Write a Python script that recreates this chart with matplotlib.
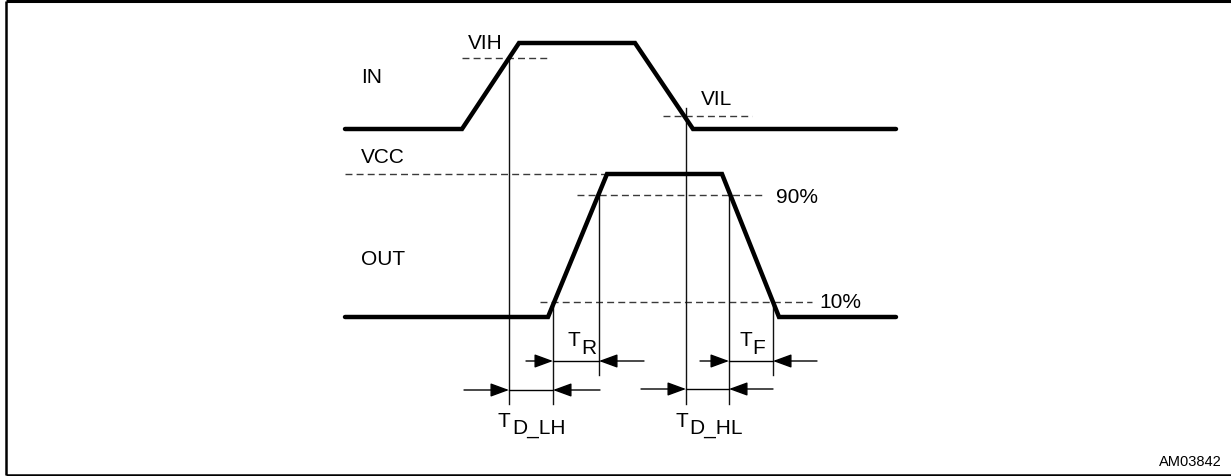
import matplotlib
matplotlib.use("Agg")
import matplotlib.pyplot as plt

plt.rcParams['font.family'] = ['Liberation Sans', 'DejaVu Sans']

# ---- Waveforms (pixel-space diagram coordinates) ----
IN_X = [345, 462, 519, 635, 693, 896]
IN_Y = [130, 130, 44, 44, 130, 130]
OUT_X = [345, 548, 607, 722, 779, 896]
OUT_Y = [318, 318, 175, 175, 318, 318]

# ---- Dashed reference levels: (y, x_start, x_end) ----
LEVEL_NAMES = ["VIH", "VIL", "VCC", "90%", "10%"]
LEVEL_Y = [59, 117, 175, 196, 303]
LEVEL_X0 = [462, 663, 345, 577, 540]
LEVEL_X1 = [548, 752, 607, 765, 812]

# ---- Vertical timing markers: x, top, bottom ----
MARK_X = [509, 686, 553, 599, 729, 773]
MARK_TOP = [59, 109, 303, 196, 196, 303]
MARK_BOT = [405, 405, 405, 376, 405, 376]

# ---- Dimension arrows: name, y, x_from, x_to, outer extensions ----
DIM_NAMES = ["R", "F", "D_LH", "D_HL"]
DIM_Y = [362, 362, 391, 390]
DIM_XA = [553, 729, 509, 686]
DIM_XB = [599, 773, 553, 729]
DIM_EXT_L = [526, 700, 464, 641]
DIM_EXT_R = [644, 817, 600, 773]

fig = plt.figure(figsize=(12.31, 4.77), dpi=100)
ax = fig.add_axes([0, 0, 1, 1])
ax.set_xlim(0, 1231)
ax.set_ylim(477, 0)
ax.axis('off')

# Frame
ax.plot([6, 6], [1.5, 476], color='black', lw=1.8, solid_capstyle='butt')
ax.plot([6, 1231], [1.5, 1.5], color='black', lw=2.2, solid_capstyle='butt')
ax.plot([6, 1231], [476, 476], color='black', lw=1.8, solid_capstyle='butt')

# Dashed levels
for y, x0, x1 in zip(LEVEL_Y, LEVEL_X0, LEVEL_X1):
    ax.plot([x0, x1], [y, y], color='#3a3a3a', lw=1.0, dashes=(5, 3))

# Vertical markers
for x, t, b in zip(MARK_X, MARK_TOP, MARK_BOT):
    ax.plot([x, x], [t, b], color='#111111', lw=1.0)

# Waveforms
ax.plot(IN_X, IN_Y, color='black', lw=3.2, solid_joinstyle='miter', solid_capstyle='round')
ax.plot(OUT_X, OUT_Y, color='black', lw=3.2, solid_joinstyle='miter', solid_capstyle='round')

# Dimension arrows
astyle = '-|>,head_length=0.6,head_width=0.22'
for y, xa, xb, el, er in zip(DIM_Y, DIM_XA, DIM_XB, DIM_EXT_L, DIM_EXT_R):
    ax.plot([xa, xb], [y, y], color='black', lw=1.0)
    ax.annotate('', xy=(xa, y), xytext=(el, y),
                arrowprops=dict(arrowstyle=astyle, mutation_scale=19, lw=1.0,
                                color='black', shrinkA=0, shrinkB=0))
    ax.annotate('', xy=(xb, y), xytext=(er, y),
                arrowprops=dict(arrowstyle=astyle, mutation_scale=19, lw=1.0,
                                color='black', shrinkA=0, shrinkB=0))

fs = 15
tk = dict(fontsize=fs, color='black', va='baseline', ha='left')
ax.text(361, 83, "IN", **tk)
ax.text(361, 163, "VCC", **tk)
ax.text(361, 265, "OUT", **tk)
ax.text(468, 49, "VIH", **tk)
ax.text(701, 105, "VIL", **tk)
ax.text(776, 203, "90%", **tk)
ax.text(819, 308, "10%", **tk)

# Timing labels (T with subscript)
T_POS = [(568, 346), (739, 346), (498, 427), (676, 427)]
SUB_POS = [(581, 354), (752, 354), (512, 434), (689, 434)]
for name, (tx, ty), (sx, sy) in zip(DIM_NAMES, T_POS, SUB_POS):
    ax.text(tx, ty, "T", **tk)
    ax.text(sx, sy, name, **tk)

ax.text(1222, 466, "AM03842", fontsize=10.5, color='black', va='baseline', ha='right')

fig.savefig("out.png", dpi=100)
